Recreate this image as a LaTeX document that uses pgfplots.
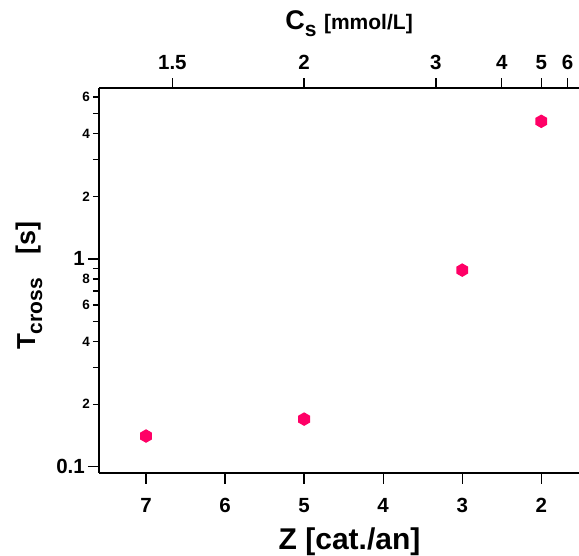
\documentclass[border=0pt]{standalone}
\usepackage{pgfplots}
\pgfplotsset{compat=1.18}
\usepackage{fontspec}
\setmainfont{Liberation Sans}

\definecolor{markpink}{RGB}{255,0,102}

% filled hexagon with pointed top and bottom
\pgfdeclareplotmark{hexagon}{%
  \pgfpathmoveto{\pgfpointpolar{90}{\pgfplotmarksize}}%
  \pgfpathlineto{\pgfpointpolar{150}{\pgfplotmarksize}}%
  \pgfpathlineto{\pgfpointpolar{210}{\pgfplotmarksize}}%
  \pgfpathlineto{\pgfpointpolar{270}{\pgfplotmarksize}}%
  \pgfpathlineto{\pgfpointpolar{330}{\pgfplotmarksize}}%
  \pgfpathlineto{\pgfpointpolar{30}{\pgfplotmarksize}}%
  \pgfpathclose
  \pgfusepathqfill
}

\newcommand{\tickfont}{\fontsize{20.5}{20.5}\selectfont\bfseries}
\newcommand{\smalltickfont}{\fontsize{13.5}{13.5}\selectfont\bfseries}

\begin{document}
\begin{tikzpicture}
% main axis: Z (bottom) and T_cross (left)
\begin{axis}[
  scale only axis,
  width=480pt, height=385pt,
  xmin=1.523, xmax=7.595, x dir=reverse,
  ymode=log, ymin=0.0933, ymax=6.64,
  axis line style={line width=1.3pt, black},
  tick align=outside,
  major tick style={line width=1.3pt, black},
  minor tick style={line width=1.3pt, black},
  clip=false,
  name=main,
  axis x line*=bottom, axis y line*=left,
  xtick={2,3,4,5,6,7},
  xticklabels={2,3,4,5,6,7},
  major tick length=11pt,
  minor tick length=6pt,
  ytick={0.1,1}, yticklabels={0.1,1},
  minor ytick={0.3,0.5,0.7,0.9,3,5},
  extra y ticks={0.2,0.4,0.6,0.8,2,4,6},
  extra y tick labels={2,4,6,8,2,4,6},
  extra y tick style={
    major tick length=6pt,
    yticklabel style={font=\smalltickfont, inner sep=0pt, xshift=0pt},
  },
  xticklabel style={font=\tickfont, inner sep=0pt, yshift=-14pt},
  yticklabel style={font=\tickfont, inner sep=0pt, xshift=-3pt},
  xlabel={Z [cat./an]},
  xlabel style={font=\fontsize{30}{30}\selectfont\bfseries, anchor=base,
    at={(axis description cs:0.522,-0.2)}},
  ylabel={\fontsize{26}{26}\selectfont T\raisebox{-7pt}{\fontsize{21}{21}\selectfont cross}\hspace{24pt}\fontsize{27}{27}\selectfont [s]},
  ylabel style={font=\bfseries, anchor=base,
    at={(axis description cs:-0.1333,0.487)}},
]
\addplot[only marks, mark=hexagon, mark size=6.8pt, color=markpink]
  coordinates {(7,0.1405) (5,0.1695) (3,0.883) (2,4.59)};
\end{axis}

% top axis: C_s = 10/Z
\begin{axis}[
  scale only axis,
  width=480pt, height=385pt,
  xmin=1.523, xmax=7.595, x dir=reverse,
  ymin=0.0933, ymax=6.64,
  axis line style={line width=1.3pt, black},
  tick align=outside,
  major tick style={line width=1.3pt, black},
  clip=false,
  axis x line*=top, axis y line=none,
  major tick length=9.5pt,
  xtick={6.66667,5,3.33333,2.5,2,1.66667},
  xticklabels={1.5,2,3,4,5,6},
  xticklabel style={font=\tickfont, inner sep=0pt, yshift=9pt},
  xlabel={\fontsize{27}{27}\selectfont C\raisebox{-7pt}{\fontsize{21}{21}\selectfont s} \fontsize{21}{21}\selectfont [mmol/L]},
  xlabel style={font=\bfseries, anchor=base,
    at={(axis description cs:0.521,1.1506)}},
]
\end{axis}

\pgfresetboundingbox
\path ([shift={(-99pt,-83pt)}]main.south west) rectangle ([shift={(0pt,88pt)}]main.north east);
\end{tikzpicture}
\end{document}
